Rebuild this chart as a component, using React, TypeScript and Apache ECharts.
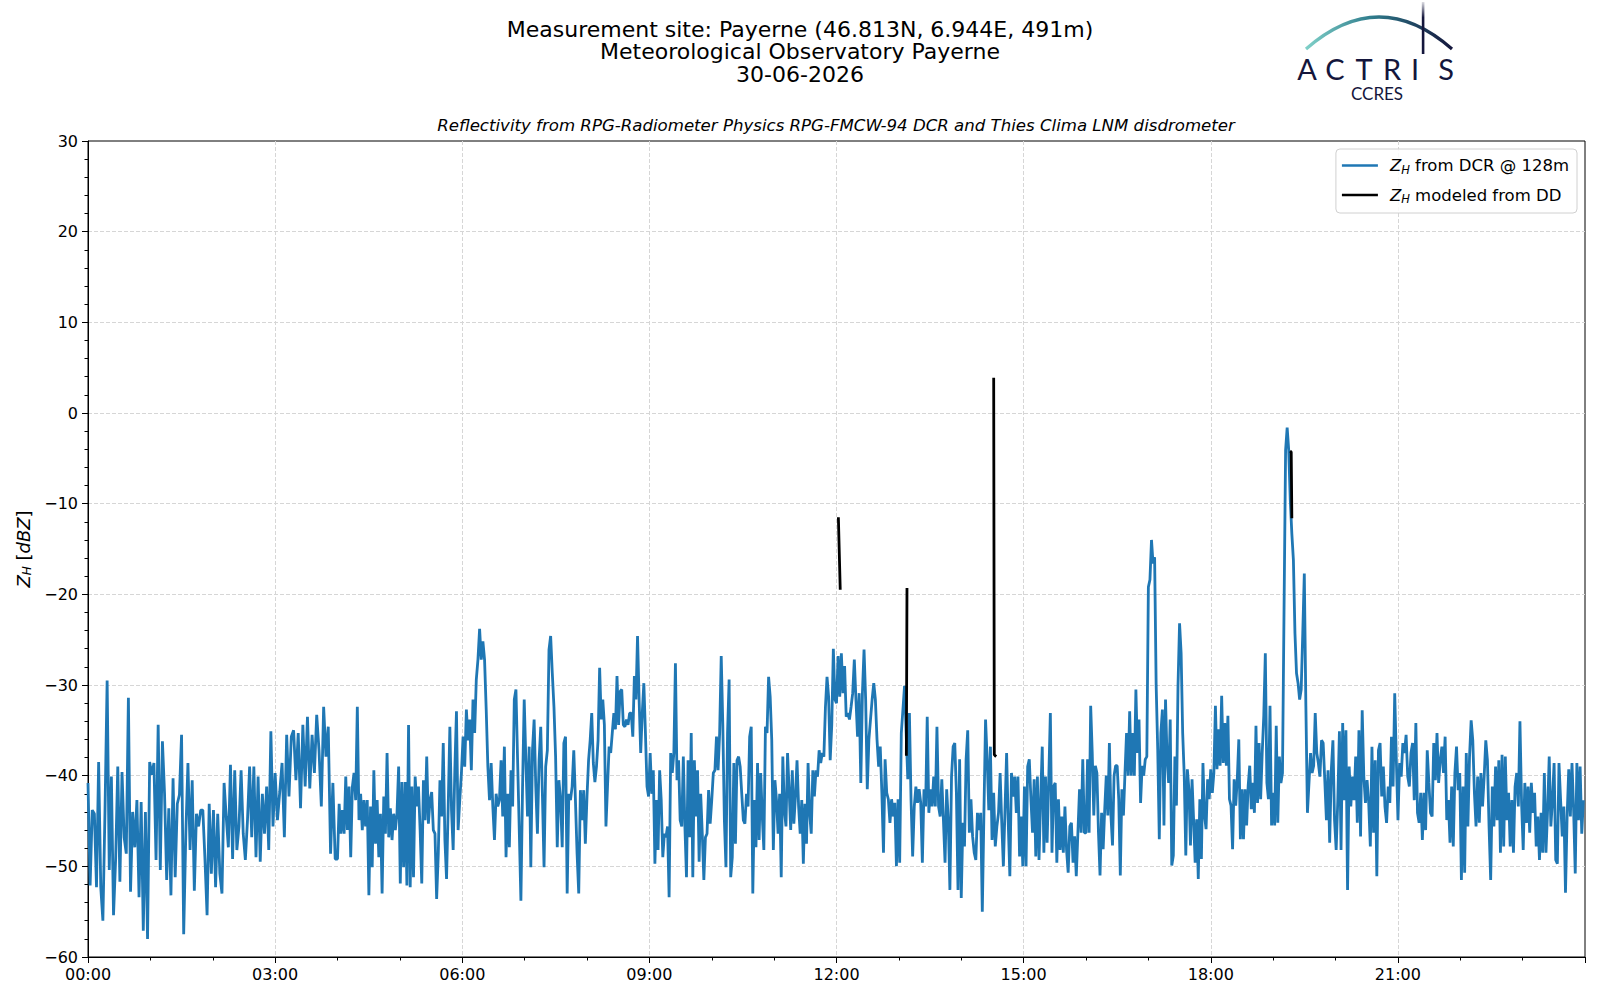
import React, { useEffect, useRef } from 'react';
import * as echarts from 'echarts';

// Block boundaries (hours) for the DCR reflectivity readings
const blockEdges = [0, 3, 4, 8, 12, 16, 19.75, 24];

// Z_H from DCR @ 128m [dBZ], read block by block
const zh_00_03 = [
  -40.8, -52.1, -43.8, -44.2, -52.3, -38.5, -52.3, -56, -43.8, -29.5, -50.4, -40.1, -55.4, -49.2, -39, -51.7,
  -39.6, -46.8, -48.6, -31.4, -52.8, -44, -47.9, -42.7, -53.4, -42.9, -57.1, -44, -58, -38.5, -39.9, -38.6,
  -49.3, -34.4, -50.4, -36.2, -42, -51.5, -43.6, -53.2, -40.3, -51.2, -43.1, -42.1, -35.5, -57.5, -46.4, -38.6,
  -48.2, -40.5, -52.7, -44.2, -45.6, -43.8, -43.8, -49.2, -55.4, -43.1, -50.8, -43.8, -52.3, -44.2, -50.8, -53,
  -40.8, -44.5, -47.9, -38.8, -49.2, -39.4, -48.2, -45.6, -39.4, -46.4, -49.3, -44.9, -39, -46.8, -39, -49,
  -40.1, -49.5, -42, -46.4, -41.2, -48.2, -35.1, -45.6,
];
const zh_03_04 = [
  -39.7, -44.9, -41.8, -38.6, -46.8, -35.5, -42.3, -35.7, -35, -40.5, -35.3, -43.6, -34.4, -41.2, -33.5, -41.4,
  -35.5, -39.7, -33.3, -37.2, -43.4, -32.4, -37.9, -34.6, -48.6, -40.8, -49.2,
];
const zh_04_08 = [
  -49.2, -43.1, -46.4, -43.8, -46.4, -40.1, -46, -41.2, -49, -41.2, -39.7, -42.7, -32.4, -44.9, -42, -46,
  -42.7, -45.6, -42.7, -53.2, -43.4, -50.1, -39.4, -47.5, -42.7, -49, -44.2, -53, -42.3, -46.4, -37.5, -46.8,
  -43.6, -47.1, -44.2, -46, -44.2, -39, -51.9, -40.7, -50.1, -40.7, -52.1, -34.4, -52.3, -41.2, -51.2, -40.1,
  -43.4, -41.2, -46, -51.9, -40.5, -44.9, -37.9, -45.3, -42.7, -41.8, -46, -46.4, -53.6, -48.6, -40.5, -44.5,
  -36.4, -47.1, -51.4, -43.4, -34.6, -43.8, -48.2, -39.4, -32.9, -46, -42.7, -39.7, -35.7, -39, -32.7, -36.1,
  -33.8, -39.4, -31.6, -35.3, -29.4, -27.2, -23.8, -27.2, -25.2, -27.2, -32.7, -39, -42.7, -38.6, -43.4, -47.1,
  -42, -43.4, -42.7, -38.3, -44.5, -36.8, -49, -42, -47.9, -39.4, -43.4, -31.6, -30.5, -38.3, -46, -53.8,
  -41.2, -31.6, -38.3, -44.5, -36.8, -50.1, -37.2, -33.8, -41.2, -46.4, -38.3, -34.6, -42, -50.1, -39, -37.2,
  -26.1, -24.6, -28.7, -32.4, -37.9, -47.9, -40.5, -42.7, -47.9, -36.4, -35.7, -53, -42, -42.7, -41.2, -37.2,
  -42.7, -48.6, -53, -41.6, -44.9, -41.6, -47.5,
];
const zh_08_12 = [
  -42.3, -38.3, -36.1, -33.1, -38.6, -40.7, -39, -36.1, -28.1, -33.8, -31.6, -34.4, -45.6, -41.2, -36.8, -37.5,
  -35.3, -33.1, -34.9, -29, -34.4, -30.7, -30.5, -34.4, -34.6, -33.8, -34.4, -33.1, -33.1, -35.7, -29, -31.6,
  -24.6, -31.6, -37.5, -33.1, -29.8, -35.3, -41.2, -42.3, -37.5, -42, -39.4, -49.7, -42.7, -48.2, -39.4, -42.7,
  -49, -46.4, -46.8, -45.6, -53.4, -37.5, -39.7, -37.5, -27.6, -40.5, -38.3, -44.9, -45.6, -37.9, -45.6, -51.2,
  -38.3, -46.8, -35.3, -51.2, -38.3, -44.5, -39.4, -49.5, -42, -46.4, -51.5, -46.8, -46.4, -41.6, -45.3, -42.7,
  -39.7, -39.4, -35.7, -39.4, -35.3, -26.8, -34.4, -44.9, -50.1, -35.3, -29.4, -51.2, -49, -38.6, -47.5, -38.3,
  -37.9, -39, -42, -44.9, -45.3, -42, -43.4, -35.7, -34.6, -53, -42.7, -47.9, -38.6, -47.1, -39.7, -44.5,
  -48.2, -34.6, -35.3, -29.1, -31.3, -36.1, -48.2, -40.5, -42.7, -46.4, -42, -51.2, -37.9, -43.8, -45.6, -37.5,
  -41.6, -46, -39.4, -45.3, -42.3, -38.3, -43.4, -46.4, -42.7, -49.7, -43.1, -47.5, -38.6, -44.2, -46.4, -39.4,
  -42.3, -39.4, -40.1, -37.2, -38.6, -37.5, -37.9, -32.4, -29.1, -31.3, -38.3, -34.4, -26, -31.6,
];
const zh_12_16 = [
  -32, -26.8, -31.3, -26.5, -30.9, -27.9, -33.5, -33.1, -33.8, -32.4, -30.9, -27.2, -31.6, -35.7, -30.9, -40.8,
  -30.9, -26.1, -31.6, -41.5, -36, -33.8, -31.6, -29.8, -31.6, -36, -39, -36.8, -41.9, -48.5, -38.2, -41.9,
  -42.6, -45.2, -42.6, -44.5, -43, -50, -42.6, -49.6, -35.3, -32.7, -30.1, -35.3, -40.4, -33.1, -42.6, -48.9,
  -43.4, -41.2, -43, -41.5, -43, -49.6, -41.5, -43.4, -33.5, -44.1, -41.5, -43.4, -40.1, -43.4, -34.6, -43.4,
  -44.5, -40.4, -44.9, -49.6, -41.5, -44.9, -52.6, -40.1, -36.8, -36.4, -41.9, -52.6, -38.2, -53.5, -45.2, -47.8,
  -38.2, -35, -46.3, -42.6, -46.7, -48.5, -49.3, -44.1, -46, -44.1, -55, -44.1, -33.8, -38.2, -43.8, -36.8,
  -47.1, -41.9, -47.8, -45.6, -44.1, -39.7, -45.2, -50, -43.8, -37.5, -45.2, -51.1, -39.7, -42.3, -40.1, -44.1,
  -40.1, -48.9, -44.5, -50, -41.2, -50, -39, -38.2, -42.6, -46.3, -40.4, -48.9, -40.1, -49.3, -42.6, -36.8,
  -48.5, -40.1, -47.4, -40.4, -33.1, -48.5, -41.2, -40.8, -49.6, -42.6, -48.2, -44.5, -48.5, -43.4, -48.2, -50.7,
  -45.6, -45.2, -49.6, -46.7, -51.1, -46.3, -41.5, -46.3, -38.2, -46.3,
];
const zh_16_1945 = [
  -46.3, -38.2, -46.3, -32.3, -37.5, -44.4, -38.9, -39.7, -46.3, -51, -44.1, -48.1, -43.7, -40, -44.4, -36.4,
  -44.4, -47.7, -40, -38.9, -38.9, -42.6, -51, -41.5, -44.4, -39.7, -35.3, -40, -32.9, -40, -35.3, -40,
  -30.5, -37.5, -33.8, -43, -38.9, -40, -38.2, -37.9, -19.2, -18.4, -14, -16.6, -15.9, -30.1, -37.1, -47,
  -35.3, -32.7, -45.5, -31.6, -38.2, -40.8, -33.8, -49.9, -48.8, -37.9, -43.3, -30.1, -23.2, -26.5, -35.3, -40,
  -48.8, -39.3, -41.5, -47.7, -40.4, -44.8, -49.6, -44.8, -51.4, -42.6, -49.2, -38.6, -44.4, -45.9, -40.4, -42.6,
  -39.3, -41.9, -39.7, -32.3, -39.3, -34.9, -38.9, -31.2, -38.6, -34.2, -38.9, -33.4, -42.6, -43.3, -48.1, -40.4,
  -43.3, -40.4, -36, -47, -41.5, -47, -41.5, -45.5, -41.1, -38.9, -43.7, -40.8, -44.1, -34.5, -43, -36.4,
  -42.6, -37.5, -33.4, -26.5, -40.8, -42.6, -32.3, -45.5, -41.9, -45.5, -34.5, -45.2, -37.9, -40.8, -39.7, -21.7,
  -4.1, -1.6, -4.1, -9.6, -13.3, -16.2, -24.3, -28.7, -29.8, -31.6, -30.5, -24.3, -17.7, -32.3, -44.1, -40.8,
  -37.5, -39.7, -38.9, -33.1, -37.5, -38.6,
];
const zh_1945_24 = [
  -40.1, -36.1, -36.4, -40.5, -44.9, -39.4, -47.4, -39.4, -36.1, -44.9, -48.2, -42.7, -35.1, -48.2, -34.2, -42.7,
  -35, -52.6, -39, -43.4, -40.1, -42.7, -37.9, -45.2, -35, -46.7, -32.8, -40.1, -43, -40.5, -43, -47.8,
  -36.8, -46.3, -38.3, -51.1, -37.2, -36.4, -42.3, -39, -43.4, -45.2, -41.2, -43, -35.7, -41.2, -30.9, -38.3,
  -44.9, -38.6, -40.1, -36.4, -37.5, -35.5, -40.1, -41.2, -37.5, -36.4, -42.7, -34.2, -44.1, -45.2, -41.9, -47.1,
  -41.9, -46, -37.2, -40.8, -44.1, -44.5, -36.4, -40.5, -35.3, -40.8, -38.3, -36.8, -39.7, -35.7, -44.9, -42.7,
  -47.4, -41.2, -47.8, -39.7, -36.8, -41.6, -39.7, -51.5, -41.2, -50.7, -37.5, -45.6, -37.9, -33.9, -36.1, -41.9,
  -45.6, -40.1, -45.2, -39.7, -43.4, -40.1, -36.1, -38.3, -45.6, -51.5, -41.2, -45.6, -39, -44.9, -38.3, -48.5,
  -37.7, -47.8, -37.9, -44.9, -41.9, -47.8, -42.7, -48.5, -41.2, -39.7, -43.4, -34, -43, -48.2, -40.8, -45.2,
  -41.2, -46.3, -40.8, -44.1, -41.9, -47.8, -44.5, -49.3, -44.1, -48.5, -39.7, -48.5, -43.8, -37.9, -45.6, -42.7,
  -38.6, -49.3, -49.7, -38.6, -42.7, -46.7, -43.4, -52.9, -44.5, -39.3, -44.5, -38.6, -43.8, -50.8, -38.6, -44.9,
  -39, -46.4, -42.7,
];
const dcrBlocks = [zh_00_03, zh_03_04, zh_04_08, zh_08_12, zh_12_16, zh_16_1945, zh_1945_24];

// Z_H modeled from disdrometer (hours, dBZ; null = gap)
const ddHours = [12.03, 12.06, 12.07, 13.13, 13.12, 13.125, 14.52, 14.53, 14.56, 14.57, 19.27, 19.29, 19.3];
const ddValues = [-11.5, -19.5, null, -19.3, -37.8, null, 3.9, -37.7, -37.9, null, -4.2, -4.3, -11.6];

const xTickLabels = ['00:00', '03:00', '06:00', '09:00', '12:00', '15:00', '18:00', '21:00'];
const titleLines = [
  'Measurement site: Payerne (46.813N, 6.944E, 491m)',
  'Meteorological Observatory Payerne',
  '30-06-2026',
];
const subtitle = 'Reflectivity from RPG-Radiometer Physics RPG-FMCW-94 DCR and Thies Clima LNM disdrometer';
const logoLetters = ['A', 'C', 'T', 'R', 'I', 'S'];

const FONT = 'DejaVu Sans';
const BLUE = '#1f77b4';
const NAVY = '#14163c';

function buildDcr(): [number, number][] {
  const out: [number, number][] = [];
  dcrBlocks.forEach((vals, k) => {
    const s = blockEdges[k];
    const e = blockEdges[k + 1];
    const step = (e - s) / vals.length;
    vals.forEach((v, i) => out.push([s + i * step, v]));
  });
  return out;
}

const LF = 16.5;
const rich = {
  i: { fontStyle: 'italic', fontSize: LF, fontFamily: FONT, color: '#000', lineHeight: 20 },
  s: { fontStyle: 'italic', fontSize: 11.5, fontFamily: FONT, color: '#000', lineHeight: 11, verticalAlign: 'bottom' },
  n: { fontSize: LF, fontFamily: FONT, color: '#000', lineHeight: 20 },
  g: { width: 7 },
};

const gridLine = { show: true, showMinLine: false, showMaxLine: false, lineStyle: { color: '#d6d6d6', type: [4, 2], width: 1 } };

export default function App() {
  const ref = useRef<HTMLDivElement>(null);
  useEffect(() => {
    if (!ref.current) return;
    const chart = echarts.init(ref.current, undefined, { renderer: 'svg' });
    const letterX = [1307, 1335, 1364, 1392, 1415, 1446];
    const graphic: any[] = [
      ...titleLines.map((t, i) => ({
        type: 'text', x: 800, y: 29 + i * 22.8,
        style: { text: t, fontFamily: FONT, fontSize: 22, fill: '#000', textAlign: 'center', textVerticalAlign: 'middle' },
      })),
      {
        type: 'text', x: 836, y: 125.5,
        style: { text: subtitle, fontFamily: FONT, fontSize: 16.6, fontStyle: 'italic', fill: '#000', textAlign: 'center', textVerticalAlign: 'middle' },
      },
      {
        type: 'bezierCurve',
        shape: { x1: 1306, y1: 49, x2: 1452, y2: 49, cpx1: 1379, cpy1: -15 },
        style: {
          fill: 'none', lineWidth: 3.2,
          stroke: new echarts.graphic.LinearGradient(0, 0, 1, 0, [
            { offset: 0, color: '#7fd0c8' },
            { offset: 0.45, color: '#2f7c8c' },
            { offset: 1, color: NAVY },
          ]),
        },
      },
      {
        type: 'rect',
        shape: { x: 1421.8, y: 2, width: 2.6, height: 52 },
        style: {
          fill: new echarts.graphic.LinearGradient(0, 0, 0, 1, [
            { offset: 0, color: 'rgba(20,22,60,0.15)' },
            { offset: 0.3, color: NAVY },
            { offset: 1, color: NAVY },
          ]),
        },
      },
      ...logoLetters.map((l, i) => ({
        type: 'text', x: letterX[i], y: 68,
        style: { text: l, fontFamily: 'Lato', fontSize: 29, fill: NAVY, textAlign: 'center', textVerticalAlign: 'middle' },
      })),
      {
        type: 'text', x: 1377, y: 93,
        style: { text: 'CCRES', fontFamily: 'Lato', fontSize: 17, fill: NAVY, textAlign: 'center', textVerticalAlign: 'middle' },
      },
    ];

    const option: any = {
      animation: false,
      backgroundColor: '#fff',
      graphic,
      grid: { left: 88, right: 15, top: 141, bottom: 43, show: true, borderColor: '#000', borderWidth: 1, backgroundColor: 'transparent' },
      legend: {
        orient: 'vertical', right: 23, top: 149,
        icon: 'rect', itemWidth: 36, itemHeight: 2.5, itemGap: 11,
        padding: [8, 8, 8, 6],
        borderColor: '#d0d0d0', borderWidth: 1, borderRadius: 4,
        backgroundColor: 'rgba(255,255,255,0.85)',
        textStyle: { fontFamily: FONT, fontSize: LF, color: '#000', rich },
        formatter: (name: string) =>
          name === 'dcr' ? '{g|}{i|Z}{s|H}{n| from DCR @ 128m}' : '{g|}{i|Z}{s|H}{n| modeled from DD}',
        data: ['dcr', 'dd'],
      },
      xAxis: {
        type: 'value', min: 0, max: 24, interval: 3,
        axisLine: { show: true, onZero: false, lineStyle: { color: '#000', width: 1 } },
        axisTick: { show: true, length: 6, lineStyle: { color: '#000' } },
        minorTick: { show: true, splitNumber: 3, length: 3.5, lineStyle: { color: '#000' } },
        axisLabel: {
          fontFamily: FONT, fontSize: 16, color: '#000', margin: 9,
          formatter: (v: number) => xTickLabels[Math.round(v / 3)] ?? '',
        },
        splitLine: gridLine,
      },
      yAxis: {
        type: 'value', min: -60, max: 30, interval: 10,
        name: '{i|Z}{s|H}{n| [}{i|dBZ}{n|]}',
        nameLocation: 'middle', nameGap: 55,
        nameTextStyle: { fontFamily: FONT, fontSize: 18, color: '#000', rich: {
          i: { ...rich.i, fontSize: 18 }, s: { ...rich.s, fontSize: 12 }, n: { ...rich.n, fontSize: 18 },
        } },
        axisLine: { show: true, onZero: false, lineStyle: { color: '#000', width: 1 } },
        axisTick: { show: true, length: 6, lineStyle: { color: '#000' } },
        minorTick: { show: true, splitNumber: 5, length: 3.5, lineStyle: { color: '#000' } },
        axisLabel: {
          fontFamily: FONT, fontSize: 16, color: '#000', margin: 10,
          formatter: (v: number) => (v < 0 ? '\u2212' + Math.abs(v) : String(v)),
        },
        splitLine: gridLine,
      },
      series: [
        {
          name: 'dcr', type: 'line', data: buildDcr(), showSymbol: false, symbol: 'none',
          lineStyle: { color: BLUE, width: 2.8 }, itemStyle: { color: BLUE }, z: 2,
        },
        {
          name: 'dd', type: 'line', showSymbol: false, symbol: 'none', connectNulls: false,
          data: ddHours.map((h, i) => [h, ddValues[i] === null ? '-' : ddValues[i]]),
          lineStyle: { color: '#000', width: 2.8 }, itemStyle: { color: '#000' }, z: 3,
        },
      ],
    };
    chart.setOption(option);
    return () => chart.dispose();
  }, []);
  return <div ref={ref} style={{ position: 'fixed', left: 0, top: 0, width: 1600, height: 1000, background: '#fff' }} />;
}
